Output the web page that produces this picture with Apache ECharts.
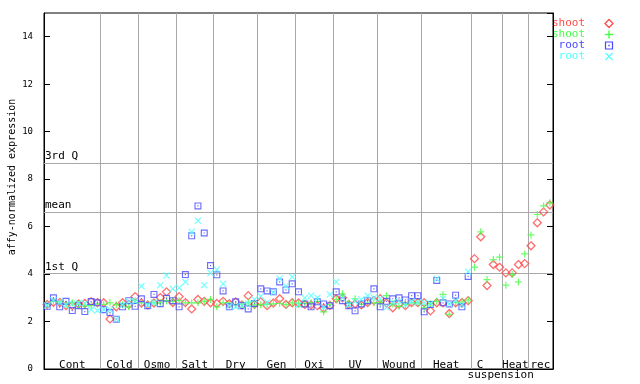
<!DOCTYPE html>
<html><head><meta charset="utf-8">
<script src="https://cdn.jsdelivr.net/npm/echarts@6/dist/echarts.min.js"></script>
<style>html,body{margin:0;padding:0;background:#fff}#c{width:640px;height:384px}</style>
</head><body><div id="c"></div>
<script>
const groupNames = ['Cont','Cold','Osmo','Salt','Dry','Gen','Oxi','UV','Wound','Heat','C','Heat','rec'];
const groupSizes = [9,6,6,6,7,6,6,7,7,8,5,4,4];
const subLabel = 'suspension';
const yTickValues = [0,2,4,6,8,10,12,14];
const quartileValues = [4.02, 6.62, 8.69];
const quartileLabels = ['1st Q','mean','3rd Q'];
const seriesNames = ['shoot','shoot','root','root'];

const shootRed = [2.72,2.81,2.8,2.67,2.67,2.74,2.76,2.84,2.8,
 2.79,2.11,2.62,2.79,2.72,3.05,
 2.78,2.7,2.78,3.01,3.25,2.8,
 3.05,2.8,2.53,2.93,2.85,2.79,
 2.76,2.85,2.75,2.83,2.7,3.09,2.72,
 2.83,2.67,2.78,2.96,2.72,2.79,
 2.78,2.72,2.7,2.67,2.56,2.68,
 2.96,3.0,2.72,2.74,2.7,2.8,2.88,
 2.96,2.78,2.58,2.74,2.67,2.8,2.8,
 2.79,2.45,2.79,2.79,2.34,2.79,2.8,2.88,
 4.65,5.57,3.52,4.4,4.29,
 4.05,4.05,4.4,4.44,
 5.19,6.16,6.62,6.91];
const shootGreen = [2.72,2.85,2.83,2.72,2.79,2.72,2.67,2.67,2.74,
 2.72,2.79,2.71,2.71,2.62,2.88,
 2.79,2.75,2.79,2.79,2.88,2.85,
 2.88,2.79,2.79,2.79,2.85,2.93,
 2.62,2.79,2.79,2.71,2.72,2.79,2.7,
 2.71,2.72,2.74,2.76,2.71,2.79,
 2.75,2.76,2.79,2.85,2.41,2.71,
 2.93,3.17,2.76,2.96,2.72,2.79,2.79,
 2.79,3.09,2.74,2.64,2.72,2.79,2.79,
 2.58,2.75,2.85,3.14,2.3,2.8,2.83,2.9,
 4.29,5.78,3.77,4.61,4.71,
 3.53,3.98,3.67,4.85,
 5.65,6.51,6.87,7.0];
const rootBlue = [2.64,3.0,2.62,2.85,2.46,2.67,2.42,2.84,2.79,
 2.5,2.38,2.1,2.62,2.88,2.64,
 2.96,2.67,3.14,2.75,2.98,2.88,
 2.62,3.98,5.61,6.87,5.73,4.36,
 3.97,3.29,2.62,2.83,2.67,2.53,2.76,
 3.38,3.29,3.25,3.67,3.33,3.59,
 3.25,2.74,2.62,2.83,2.74,2.67,
 3.25,2.88,2.67,2.45,2.74,2.88,3.38,
 2.62,2.85,2.96,3.0,2.91,3.09,3.09,
 2.41,2.72,3.73,2.79,2.74,3.11,2.62,3.9];
const rootCyan = [2.68,2.9,2.8,2.7,2.75,2.79,2.76,2.5,2.46,
 2.5,2.5,2.1,2.7,2.85,2.85,
 3.49,2.7,2.8,3.53,3.94,3.38,
 3.42,3.67,5.78,6.25,3.53,4.05,
 4.19,3.59,2.65,2.62,2.67,2.75,2.93,
 3.07,2.8,3.23,3.81,3.49,3.88,
 2.7,3.0,3.09,3.0,2.6,3.14,
 3.67,3.0,2.72,2.85,2.93,3.09,3.0,
 2.96,2.6,2.8,2.85,2.72,2.85,2.8,
 2.8,2.75,3.8,2.96,2.74,2.88,2.7,4.1];

const FONT = 'DejaVu Sans Mono';
const COLORS = ['#ff4a4a','#44ff44','#4848ff','#55ffff'];
const SYMBOLS = [
  'diamond',
  'path://M3.3,0H4.7V3.3H8V4.7H4.7V8H3.3V4.7H0V3.3H3.3Z',
  'path://M0,0H8V8H0Z M1.3,1.3V6.7H6.7V1.3Z M3.3,3.3H4.7V4.7H3.3Z',
  'path://M0,1L1,0L4,3L7,0L8,1L5,4L8,7L7,8L4,5L1,8L0,7L3,4Z'
];

let acc = 0; const bounds = []; const centers = [];
groupSizes.forEach((s,k)=>{ centers.push(acc + s/2); acc += s; if (k < groupSizes.length-1) bounds.push(acc); });
const total = acc;
const toPts = arr => arr.map((v,i)=>[i+0.5, v]);
const allData = [shootRed, shootGreen, rootBlue, rootCyan];

const chart = echarts.init(document.getElementById('c'));
const series = allData.map((d,k)=>({
  name: seriesNames[k], type:'scatter', data: toPts(d), z: 3+k,
  symbol: SYMBOLS[k], symbolSize: k===0 ? 8 : 7,
  itemStyle: k===0 ? {color:'transparent', borderColor:COLORS[k], borderWidth:1.3} : {color:COLORS[k]},
  emphasis:{disabled:true}, silent:true
}));
series.unshift({
  type:'scatter', data:[], z:1, silent:true,
  markLine:{
    silent:true, symbol:'none', animation:false, z:1,
    lineStyle:{color:'#a8a8a8', width:1, type:'solid'},
    label:{show:false},
    emphasis:{disabled:true},
    data:[
      ...bounds.map(b=>({xAxis:b})),
      ...quartileValues.map((v,k)=>({yAxis:v, name:quartileLabels[k],
        label:{show:true, position:'insideStartTop', formatter:'{b}', color:'#000', fontFamily:FONT, fontSize:11, distance:[1,1]}}))
    ]
  }
});

chart.setOption({
  animation:false,
  grid:{left:44, right:87, top:13, bottom:15, show:true, borderColor:'#000', borderWidth:1, backgroundColor:'transparent'},
  xAxis:{type:'value', min:0, max:total, axisLine:{show:true, lineStyle:{color:'#000'}}, axisTick:{show:false}, axisLabel:{show:false}, splitLine:{show:false}},
  yAxis:[
    {type:'value', min:0, max:15, interval:2, position:'left',
     axisLine:{show:true, lineStyle:{color:'#000'}},
     axisTick:{show:true, inside:true, length:6, lineStyle:{color:'#000'}},
     axisLabel:{showMaxLabel:false, color:'#000', fontFamily:FONT, fontSize:9, margin:11,
       formatter: v => yTickValues.includes(v) ? String(v) : ''},
     splitLine:{show:false}},
    {type:'value', min:0, max:15, interval:2, position:'right',
     axisLine:{show:true, lineStyle:{color:'#000'}},
     axisTick:{show:true, inside:true, length:6, lineStyle:{color:'#000'}},
     axisLabel:{show:false}, splitLine:{show:false}}
  ],
  series: series
});

const gfx = [];
centers.forEach((c,k)=>{
  const p = chart.convertToPixel({gridIndex:0}, [c, 0]);
  const dx = groupNames[k]==='C' ? -7 : 0;
  gfx.push({type:'text', x:p[0]+dx, y:p[1]-4, silent:true,
    style:{text:groupNames[k], fill:'#000', fontFamily:FONT, fontSize:11, textAlign:'center', textVerticalAlign:'middle', verticalAlign:'middle'}});
});
const pS = chart.convertToPixel({gridIndex:0}, [bounds[10], 0]);
gfx.push({type:'text', x:pS[0]-2, y:pS[1]+6, silent:true,
  style:{text:subLabel, fill:'#000', fontFamily:FONT, fontSize:11, textAlign:'center', textVerticalAlign:'middle', verticalAlign:'middle'}});
// y axis title
gfx.push({type:'text', x:12, y:177, rotation:Math.PI/2, silent:true,
  style:{text:'affy-normalized expression', fill:'#000', fontFamily:FONT, fontSize:10, textAlign:'center', textVerticalAlign:'middle', verticalAlign:'middle'}});
// legend
const legY = [23.5, 34.5, 45.5, 56.5];
const sx = 609;
seriesNames.forEach((n,k)=>{
  gfx.push({type:'text', x:585, y:legY[k], silent:true,
    style:{text:n, fill:COLORS[k], fontFamily:FONT, fontSize:11, textAlign:'right', textVerticalAlign:'middle', verticalAlign:'middle'}});
});
gfx.push({type:'polygon', silent:true, shape:{points:[[sx,legY[0]-4],[sx+4,legY[0]],[sx,legY[0]+4],[sx-4,legY[0]]]}, style:{fill:'none', stroke:COLORS[0], lineWidth:1.3}});
gfx.push({type:'line', silent:true, shape:{x1:sx-4,y1:legY[1],x2:sx+4,y2:legY[1]}, style:{stroke:COLORS[1], lineWidth:1.4}});
gfx.push({type:'line', silent:true, shape:{x1:sx,y1:legY[1]-4,x2:sx,y2:legY[1]+4}, style:{stroke:COLORS[1], lineWidth:1.4}});
gfx.push({type:'rect', silent:true, shape:{x:sx-3.5,y:legY[2]-3.5,width:7,height:7}, style:{fill:'none', stroke:COLORS[2], lineWidth:1.2}});
gfx.push({type:'rect', silent:true, shape:{x:sx-0.7,y:legY[2]-0.7,width:1.4,height:1.4}, style:{fill:COLORS[2]}});
gfx.push({type:'line', silent:true, shape:{x1:sx-3.5,y1:legY[3]-3.5,x2:sx+3.5,y2:legY[3]+3.5}, style:{stroke:COLORS[3], lineWidth:1.3}});
gfx.push({type:'line', silent:true, shape:{x1:sx+3.5,y1:legY[3]-3.5,x2:sx-3.5,y2:legY[3]+3.5}, style:{stroke:COLORS[3], lineWidth:1.3}});
chart.setOption({graphic: gfx});
</script></body></html>
